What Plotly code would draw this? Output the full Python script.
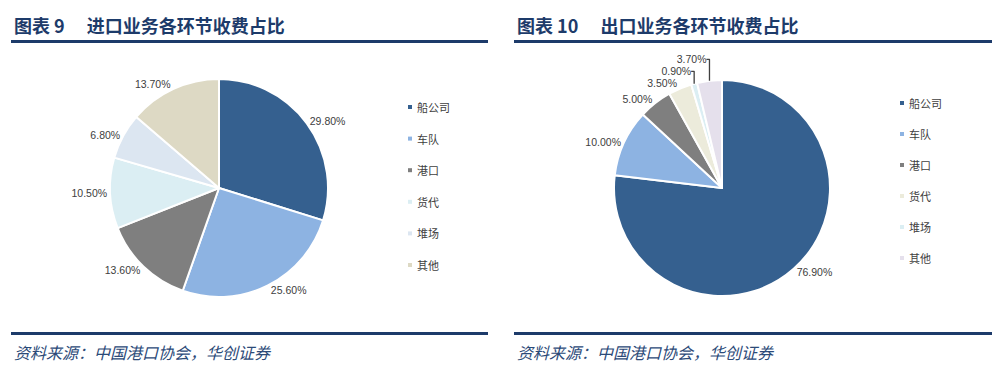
import plotly.graph_objects as go

W, H = 1005, 385

categories = ["船公司", "车队", "港口", "货代", "堆场", "其他"]
import_share = [29.8, 25.6, 13.6, 10.5, 6.8, 13.7]
export_share = [76.9, 10.0, 5.0, 3.5, 0.9, 3.7]

left_title = "图表 9　 进口业务各环节收费占比"
right_title = "图表 10　 出口业务各环节收费占比"
source_text = "资料来源：中国港口协会，华创证券"

import_colors = ["#35608f", "#8db3e2", "#7f7f7f", "#dbeef3", "#dce6f1", "#ddd9c4"]
export_colors = ["#35608f", "#8db3e2", "#7f7f7f", "#ecebdb", "#dbeef3", "#e5e0ec"]

NAVY = "#1d3b6a"
TXT = "#404040"
CJK = "Noto Sans CJK SC"


def px(x):
    return x / W


def py(y):
    return 1 - y / H


fig = go.Figure()

pies = [
    (import_share, import_colors, (219, 188, 109)),
    (export_share, export_colors, (722, 188, 108)),
]
for vals, cols, (cx, cy, r) in pies:
    fig.add_trace(go.Pie(
        labels=categories,
        values=vals,
        sort=False,
        direction="clockwise",
        rotation=0,
        marker=dict(colors=cols, line=dict(color="white", width=2)),
        texttemplate="%{value:.2f}%",
        textposition="outside",
        outsidetextfont=dict(family="Liberation Sans", size=10.5, color=TXT),
        domain=dict(x=[px(cx - r), px(cx + r)], y=[py(cy + r), py(cy - r)]),
        showlegend=False,
        hoverinfo="label+percent",
    ))

shapes = []
annotations = []

# Titles, rules and sources
for x0, x1, title in [(11, 488, left_title), (514, 992, right_title)]:
    annotations.append(dict(
        x=px(x0 + 1), y=py(25), xref="paper", yref="paper", xanchor="left", yanchor="middle",
        text="<b>" + title + "</b>", showarrow=False,
        font=dict(family=CJK, size=18, color=NAVY)))
    shapes.append(dict(type="line", xref="paper", yref="paper",
                       x0=px(x0), x1=px(x1), y0=py(41.5), y1=py(41.5),
                       line=dict(color=NAVY, width=3)))
    shapes.append(dict(type="line", xref="paper", yref="paper",
                       x0=px(x0), x1=px(x1), y0=py(333.5), y1=py(333.5),
                       line=dict(color=NAVY, width=3)))
    annotations.append(dict(
        x=px(x0 + 1), y=py(352), xref="paper", yref="paper", xanchor="left", yanchor="middle",
        text="<i>" + source_text + "</i>", showarrow=False,
        font=dict(family=CJK, size=16, color="#2c4a78")))

# Legends
legends = [
    (410, 107, 31.6, import_colors),
    (902, 103, 31.0, export_colors),
]
for lx, ly0, step, cols in legends:
    for i, (cat, col) in enumerate(zip(categories, cols)):
        yy = ly0 + i * step
        shapes.append(dict(type="rect", xref="paper", yref="paper",
                           x0=px(lx - 2), x1=px(lx + 2), y0=py(yy + 2), y1=py(yy - 2),
                           fillcolor=col, line=dict(width=0)))
        annotations.append(dict(
            x=px(lx + 5), y=py(yy), xref="paper", yref="paper", xanchor="left", yanchor="middle",
            text=cat, showarrow=False, font=dict(family=CJK, size=11, color=TXT)))

fig.update_layout(
    width=W, height=H,
    margin=dict(l=0, r=0, t=0, b=0),
    paper_bgcolor="white", plot_bgcolor="white",
    shapes=shapes, annotations=annotations,
    showlegend=False,
)

fig.write_html("out.html",
               config={"displayModeBar": False},
               post_script="document.body.style.margin='0';document.body.style.padding='0';")
